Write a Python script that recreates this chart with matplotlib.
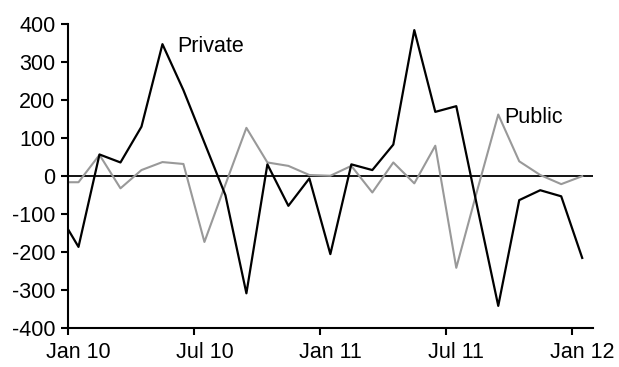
import matplotlib
matplotlib.use("Agg")
import matplotlib.pyplot as plt

months = ["Dec 09", "Jan 10", "Feb 10", "Mar 10", "Apr 10", "May 10", "Jun 10",
          "Jul 10", "Aug 10", "Sep 10", "Oct 10", "Nov 10", "Dec 10",
          "Jan 11", "Feb 11", "Mar 11", "Apr 11", "May 11", "Jun 11",
          "Jul 11", "Aug 11", "Sep 11", "Oct 11", "Nov 11", "Dec 11", "Jan 12"]
private = [-93, -186, 57, 36, 130, 347, 226, 88, -50, -308, 31, -78, -6,
           -205, 31, 16, 83, 384, 169, 184, -81, -341, -63, -37, -53, -215]
public = [-16, -16, 56, -32, 16, 37, 32, -173, -22, 127, 36, 27, 3,
          1, 27, -43, 36, -19, 80, -241, -37, 162, 39, 3, -21, 0]
tick_labels = ["Jan 10", "Jul 10", "Jan 11", "Jul 11", "Jan 12"]
yticks = [-400, -300, -200, -100, 0, 100, 200, 300, 400]

plt.rcParams['font.family'] = ['Liberation Sans', 'DejaVu Sans']
fs = 15.5

fig = plt.figure(figsize=(6.19, 3.67), dpi=100)
ax = fig.add_axes([68/619, 1-328.3/367, (592.7-68)/619, (328.3-24)/367])

# month index: Jan 10 starts at 0; points plotted mid-month
x = [i - 1 + 0.5 for i in range(len(months))]

ax.axhline(0, color='black', lw=1.3, zorder=1)
ax.plot(x, public, color='#999999', lw=1.5, zorder=2)
ax.plot(x, private, color='black', lw=1.6, zorder=3)

ax.set_xlim(0, 25)
ax.set_ylim(-400, 400)
ax.set_yticks(yticks)
ax.set_yticklabels([str(v) for v in yticks], fontsize=fs)
major = [0, 6, 12, 18, 24]
ax.set_xticks(major)
ax.set_xticklabels([])
ax.set_xticks([m + 0.5 for m in major], minor=True)
ax.set_xticklabels(tick_labels, minor=True, fontsize=fs)

for s in ['top', 'right']:
    ax.spines[s].set_visible(False)
for s in ['left', 'bottom']:
    ax.spines[s].set_linewidth(1.5)
ax.tick_params(axis='both', which='major', direction='out', length=5, width=1.5, pad=4)
ax.tick_params(axis='x', which='minor', length=0, pad=10)

ax.text(5.19, 326, "Private", fontsize=fs, ha='left', va='baseline')
ax.text(20.8, 139, "Public", fontsize=fs, ha='left', va='baseline')

fig.savefig("out.png", dpi=100)
